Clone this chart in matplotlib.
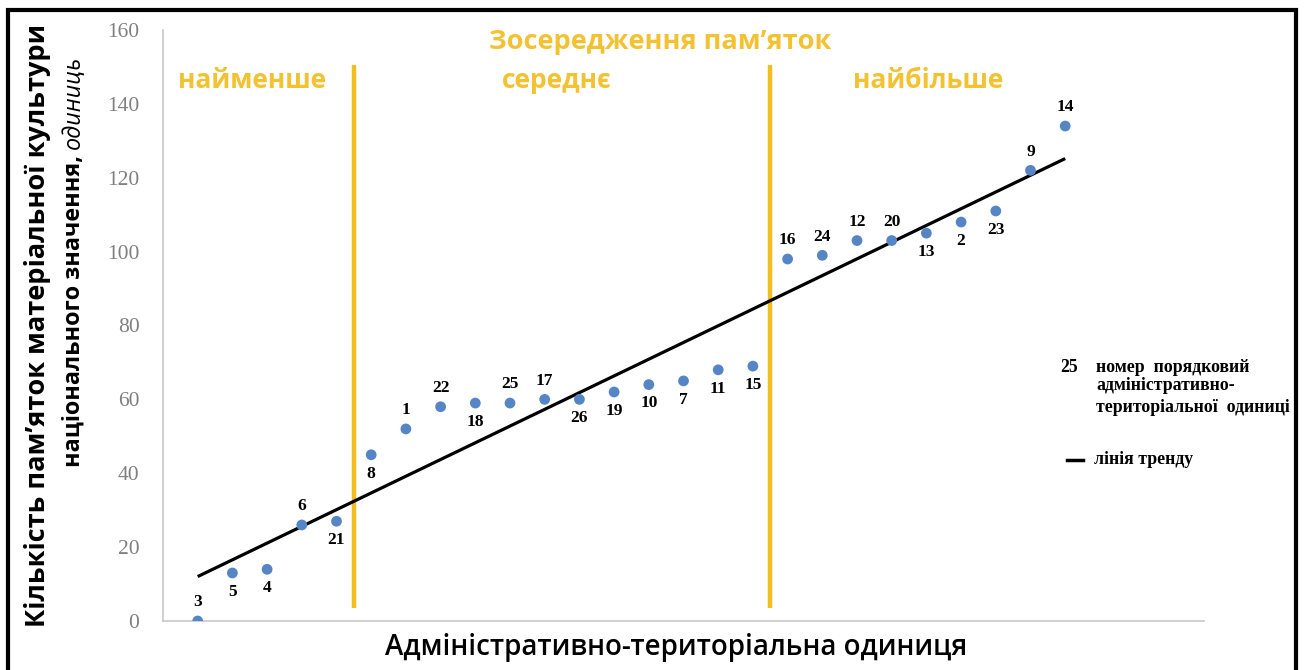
import matplotlib
matplotlib.use("Agg")
import matplotlib.pyplot as plt
from matplotlib.lines import Line2D
from matplotlib.patches import Rectangle
import numpy as np

# ---- data ----
unit_ids = [3, 5, 4, 6, 21, 8, 1, 22, 18, 25, 17, 26, 19, 10, 7, 11, 15,
            16, 24, 12, 20, 13, 2, 23, 9, 14]
monuments = [0, 13, 14, 26, 27, 45, 52, 58, 59, 59, 60, 60, 62, 64, 65, 68, 69,
             98, 99, 103, 103, 105, 108, 111, 122, 134]
label_side = ['a', 'b', 'b', 'a', 'b', 'b', 'a', 'a', 'b', 'a', 'a', 'b', 'b', 'b', 'b', 'b', 'b',
              'a', 'a', 'a', 'a', 'b', 'b', 'b', 'a', 'a']
group_sizes = [5, 12, 9]
group_names = ['найменше', 'середнє', 'найбільше']
y_ticks = [0, 20, 40, 60, 80, 100, 120, 140, 160]

W, H = 1304, 670
fig = plt.figure(figsize=(W / 100, H / 100), dpi=100)


def fx(x):
    return x / W


def fy(y):
    return 1 - y / H


YEL = '#F0BE1E'
YEL_T = '#F2C233'
BLUE = '#5585C4'

ax = fig.add_axes([fx(163), fy(621), fx(1204 - 163), (621 - 30) / H])
ax.set_xlim(0, 30)
ax.set_ylim(0, 160)

x = np.arange(1, len(monuments) + 1)
ax.scatter(x, monuments, s=60, color=BLUE, zorder=4, edgecolors='none')

# trend line
k, b = np.polyfit(x, monuments, 1)
ax.plot([x[0], x[-1]], [k * x[0] + b, k * x[-1] + b], color='black', lw=2.3, zorder=3,
        solid_capstyle='butt')

# group boundaries
cum = np.cumsum(group_sizes)
for c in cum[:-1]:
    ax.plot([c + 0.5, c + 0.5], [3.5, 150.5], color=YEL, lw=3.2, zorder=2,
            solid_capstyle='butt')

# point labels
for xi, yi, lab, side in zip(x, monuments, unit_ids, label_side):
    off = 13.5 if side == 'a' else -13.5
    ax.annotate(str(lab), (xi, yi), xytext=(0, off), textcoords='offset points',
                ha='center', va='center', fontsize=12.5, fontweight='bold',
                family='Liberation Serif', color='black', zorder=5)

# axes styling
for s in ['top', 'right']:
    ax.spines[s].set_visible(False)
for s in ['left', 'bottom']:
    ax.spines[s].set_color('#C8C8C8')
    ax.spines[s].set_linewidth(1.2)
ax.set_xticks([])
ax.set_yticks(y_ticks)
ax.set_yticklabels([str(t) for t in y_ticks], family='Liberation Serif', fontsize=15.5,
                   color='#7F7F7F')
ax.tick_params(axis='y', length=0, pad=17)

# group headers
centers = [252, 557, 928]
for name, cxp in zip(group_names, centers):
    fig.text(fx(cxp), fy(80), name, ha='center', va='center', fontsize=19,
             fontweight='bold', family='Open Sans', color=YEL_T)
fig.text(fx(660), fy(42), 'Зосередження пам’яток', ha='center', va='center', fontsize=19.5,
         fontweight='bold', family='Open Sans', color=YEL_T)

# axis labels
fig.text(fx(676), fy(648), 'Адміністративно-територіальна одиниця', ha='center',
         va='center', fontsize=20, fontweight='semibold', family='Open Sans', color='black')
fig.text(fx(38), fy(325), 'Кількість пам’яток матеріальної культури', rotation=90,
         ha='center', va='center', fontsize=19.5, fontweight='bold', family='Open Sans',
         color='black')
t1 = fig.text(fx(74), fy(467), 'національного значення, ', rotation=90, ha='center',
              va='bottom', fontsize=16.8, fontweight='bold', family='Open Sans', color='black')
fig.canvas.draw()
bb = t1.get_window_extent(renderer=fig.canvas.get_renderer())
fig.text(fx(74), bb.y1 / (H), 'одиниць', rotation=90, ha='center', va='bottom',
         fontsize=16.8, fontstyle='italic', family='Open Sans', color='black')

# legend
LF = dict(family='Liberation Serif', fontweight='bold', fontsize=12.8, color='black',
          va='center', ha='left')
fig.text(fx(1060), fy(367), '25', **LF)
fig.text(fx(1096), fy(367), 'номер  порядковий', **LF)
fig.text(fx(1096), fy(386), 'адміністративно-', **LF)
fig.text(fx(1096), fy(407), 'територіальної  одиниці', **LF)
fig.add_artist(Line2D([fx(1067), fx(1083)], [fy(460), fy(460)], color='black', lw=2.5,
                      transform=fig.transFigure))
fig.text(fx(1094), fy(459), 'лінія тренду', **LF)

# outer frame
fig.add_artist(Rectangle((fx(8), fy(700)), fx(1296 - 8), (700 - 10) / H, fill=False,
                         edgecolor='black', lw=3, transform=fig.transFigure, clip_on=False))

fig.savefig('out.png', dpi=100)
